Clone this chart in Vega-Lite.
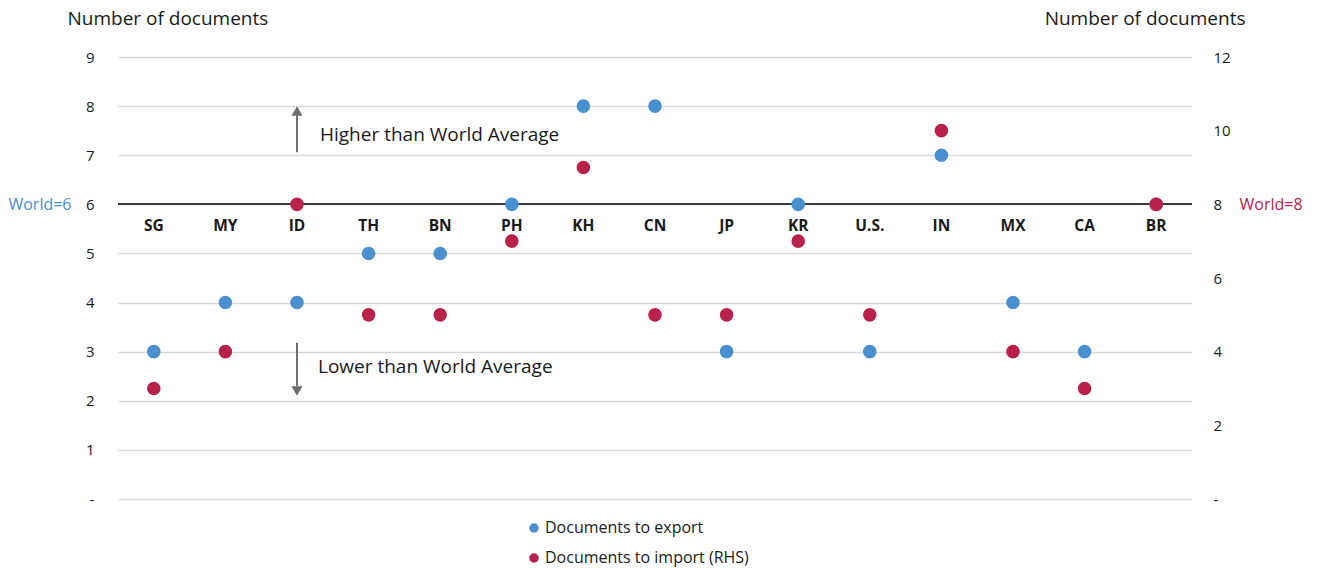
{
  "$schema": "https://vega.github.io/schema/vega-lite/v6.json",
  "width": 1074,
  "height": 442,
  "autosize": {"type": "none"},
  "padding": {"left": 118, "top": 57, "right": 126, "bottom": 69},
  "background": "white",
  "config": {
    "font": "Open Sans",
    "view": {"stroke": null},
    "axis": {"labelFont": "Open Sans", "titleFont": "Open Sans"}
  },
  "datasets": {
    "docs": [
      {"country": "SG", "series": "Documents to export", "value": 3},
      {"country": "MY", "series": "Documents to export", "value": 4},
      {"country": "ID", "series": "Documents to export", "value": 4},
      {"country": "TH", "series": "Documents to export", "value": 5},
      {"country": "BN", "series": "Documents to export", "value": 5},
      {"country": "PH", "series": "Documents to export", "value": 6},
      {"country": "KH", "series": "Documents to export", "value": 8},
      {"country": "CN", "series": "Documents to export", "value": 8},
      {"country": "JP", "series": "Documents to export", "value": 3},
      {"country": "KR", "series": "Documents to export", "value": 6},
      {"country": "U.S.", "series": "Documents to export", "value": 3},
      {"country": "IN", "series": "Documents to export", "value": 7},
      {"country": "MX", "series": "Documents to export", "value": 4},
      {"country": "CA", "series": "Documents to export", "value": 3},
      {"country": "BR", "series": "Documents to export", "value": 6},
      {"country": "SG", "series": "Documents to import (RHS)", "value": 3},
      {"country": "MY", "series": "Documents to import (RHS)", "value": 4},
      {"country": "ID", "series": "Documents to import (RHS)", "value": 8},
      {"country": "TH", "series": "Documents to import (RHS)", "value": 5},
      {"country": "BN", "series": "Documents to import (RHS)", "value": 5},
      {"country": "PH", "series": "Documents to import (RHS)", "value": 7},
      {"country": "KH", "series": "Documents to import (RHS)", "value": 9},
      {"country": "CN", "series": "Documents to import (RHS)", "value": 5},
      {"country": "JP", "series": "Documents to import (RHS)", "value": 5},
      {"country": "KR", "series": "Documents to import (RHS)", "value": 7},
      {"country": "U.S.", "series": "Documents to import (RHS)", "value": 5},
      {"country": "IN", "series": "Documents to import (RHS)", "value": 10},
      {"country": "MX", "series": "Documents to import (RHS)", "value": 4},
      {"country": "CA", "series": "Documents to import (RHS)", "value": 3},
      {"country": "BR", "series": "Documents to import (RHS)", "value": 8}
    ],
    "countries": [
      {"country": "SG"}, {"country": "MY"}, {"country": "ID"}, {"country": "TH"},
      {"country": "BN"}, {"country": "PH"}, {"country": "KH"}, {"country": "CN"},
      {"country": "JP"}, {"country": "KR"}, {"country": "U.S."}, {"country": "IN"},
      {"country": "MX"}, {"country": "CA"}, {"country": "BR"}
    ]
  },
  "encoding": {
    "x": {
      "field": "country",
      "type": "nominal",
      "sort": ["SG","MY","ID","TH","BN","PH","KH","CN","JP","KR","U.S.","IN","MX","CA","BR"],
      "scale": {"paddingInner": 0, "paddingOuter": 0},
      "axis": null
    }
  },
  "layer": [
    {
      "data": {"name": "docs"},
      "transform": [{"filter": "datum.series === 'Documents to export'"}],
      "mark": {"type": "point", "opacity": 0},
      "encoding": {
        "y": {
          "field": "value", "type": "quantitative",
          "scale": {"domain": [0, 9], "nice": false, "zero": true},
          "axis": {
            "orient": "left",
            "values": [0,1,2,3,4,5,6,7,8,9],
            "labelExpr": "datum.value === 0 ? '-' : datum.label",
            "grid": true, "gridColor": "#d9d9d9", "gridWidth": 1.5,
            "domain": false, "ticks": false, "tickSize": 0,
            "labelPadding": 24, "labelFontSize": 15, "labelColor": "#1a1a1a",
            "title": "Number of documents",
            "titleAngle": 0, "titleX": -51, "titleY": -39,
            "titleAlign": "left", "titleBaseline": "middle",
            "titleFontSize": 19, "titleFontWeight": "normal", "titleColor": "#1a1a1a"
          }
        }
      }
    },
    {
      "data": {"name": "countries"},
      "mark": {"type": "rule", "color": "#3a3a3a", "strokeWidth": 1.5},
      "encoding": {
        "x": {"value": 0},
        "x2": {"value": 1074},
        "y": {
          "datum": 6, "type": "quantitative",
          "scale": {"domain": [0, 9], "nice": false},
          "axis": {
            "orient": "left", "values": [6], "labelExpr": "'World=6'",
            "offset": 47, "labelPadding": 0, "grid": false, "domain": false,
            "ticks": false, "tickSize": 0, "labelFontSize": 16,
            "labelColor": "#4a90d0", "title": null
          }
        }
      }
    },
    {
      "data": {"name": "docs"},
      "transform": [{"filter": "datum.series === 'Documents to export'"}],
      "mark": {"type": "circle", "size": 185, "opacity": 1},
      "encoding": {
        "y": {
          "field": "value", "type": "quantitative",
          "scale": {"domain": [0, 9], "nice": false},
          "axis": null
        },
        "color": {
          "field": "series", "type": "nominal",
          "scale": {"domain": ["Documents to export", "Documents to import (RHS)"], "range": ["#4a90d0", "#b8224a"]},
          "legend": {
            "orient": "none", "legendX": 408, "legendY": 463,
            "direction": "vertical", "title": null,
            "symbolType": "circle", "symbolSize": 90,
            "labelFontSize": 16, "labelColor": "#1a1a1a", "labelLimit": 0,
            "rowPadding": 14, "labelOffset": 3
          }
        }
      }
    },
    {
      "data": {"name": "docs"},
      "transform": [{"filter": "datum.series === 'Documents to import (RHS)'"}],
      "mark": {"type": "circle", "size": 185, "opacity": 1},
      "encoding": {
        "y": {
          "field": "value", "type": "quantitative",
          "scale": {"domain": [0, 12], "nice": false},
          "axis": {
            "orient": "right",
            "values": [0,2,4,6,8,10,12],
            "labelExpr": "datum.value === 0 ? '-' : datum.label",
            "grid": false, "domain": false, "ticks": false, "tickSize": 0,
            "labelPadding": 21, "labelFontSize": 15, "labelColor": "#1a1a1a",
            "title": "Number of documents",
            "titleAngle": 0, "titleX": 53, "titleY": -39,
            "titleAlign": "right", "titleBaseline": "middle",
            "titleFontSize": 19, "titleFontWeight": "normal", "titleColor": "#1a1a1a"
          }
        },
        "color": {"field": "series", "type": "nominal"}
      }
    },
    {
      "data": {"name": "countries"},
      "mark": {"type": "text", "fontWeight": "bold", "fontSize": 15.5, "dy": 22, "color": "#1a1a1a"},
      "encoding": {
        "text": {"field": "country"},
        "y": {
          "datum": 8, "type": "quantitative",
          "scale": {"domain": [0, 12], "nice": false},
          "axis": {
            "orient": "right", "values": [8], "labelExpr": "'World=8'",
            "offset": 47, "labelPadding": 0, "grid": false, "domain": false,
            "ticks": false, "tickSize": 0, "labelFontSize": 16,
            "labelColor": "#b8224a", "title": null
          }
        }
      }
    },
    {
      "data": {"values": [{"country": "ID"}]},
      "layer": [
        {
          "mark": {"type": "rule", "color": "#6d6e71", "strokeWidth": 2},
          "encoding": {
            "y": {"datum": 7.06, "type": "quantitative", "scale": {"domain": [0, 9], "nice": false}, "axis": null},
            "y2": {"datum": 7.85}
          }
        },
        {
          "mark": {"type": "point", "shape": "triangle-up", "filled": true, "color": "#6d6e71", "size": 120, "opacity": 1},
          "encoding": {
            "y": {"datum": 7.9, "type": "quantitative", "scale": {"domain": [0, 9], "nice": false}, "axis": null}
          }
        },
        {
          "mark": {"type": "rule", "color": "#6d6e71", "strokeWidth": 2},
          "encoding": {
            "y": {"datum": 3.18, "type": "quantitative", "scale": {"domain": [0, 9], "nice": false}, "axis": null},
            "y2": {"datum": 2.3}
          }
        },
        {
          "mark": {"type": "point", "shape": "triangle-down", "filled": true, "color": "#6d6e71", "size": 120, "opacity": 1},
          "encoding": {
            "y": {"datum": 2.2, "type": "quantitative", "scale": {"domain": [0, 9], "nice": false}, "axis": null}
          }
        },
        {
          "mark": {"type": "text", "text": "Higher than World Average", "align": "left", "baseline": "middle", "dx": 23, "fontSize": 19, "color": "#1a1a1a"},
          "encoding": {
            "y": {"datum": 7.41, "type": "quantitative", "scale": {"domain": [0, 9], "nice": false}, "axis": null}
          }
        },
        {
          "mark": {"type": "text", "text": "Lower than World Average", "align": "left", "baseline": "middle", "dx": 21, "fontSize": 19, "color": "#1a1a1a"},
          "encoding": {
            "y": {"datum": 2.69, "type": "quantitative", "scale": {"domain": [0, 9], "nice": false}, "axis": null}
          }
        }
      ]
    }
  ],
  "resolve": {"scale": {"y": "independent"}, "axis": {"y": "independent"}}
}
